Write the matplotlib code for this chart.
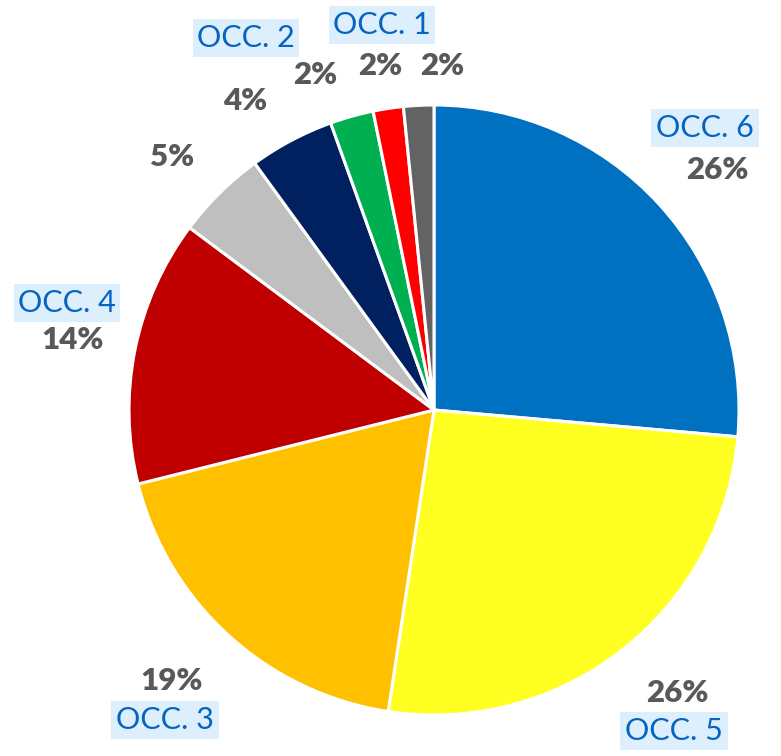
import matplotlib
matplotlib.use("Agg")
import matplotlib.pyplot as plt
import numpy as np

# Data (clockwise from 12 o'clock)
categories = ["OCC. 6", "OCC. 5", "OCC. 3", "OCC. 4", "", "OCC. 2", "", "OCC. 1", ""]
values = [26.4, 26.0, 18.7, 14.1, 4.8, 4.5, 2.3, 1.6, 1.6]
colors = ["#0070C0", "#FFFF21", "#FFC000", "#C00000", "#BFBFBF",
          "#002060", "#00B050", "#FF0000", "#636363"]

# label positions in pixels (x, y) for percentage and category name
pct_pos = [(717, 170), (677, 693), (172, 681), (73, 340), (172, 157),
           (245, 101), (315, 75), (380, 66), (442, 66)]
name_pos = [(705, 128), (674, 731), (165, 720), (67, 303), None,
            (246, 38), None, (382, 25), None]

W, H = 781, 756
CX, CY, R = 434, 410, 305

fig = plt.figure(figsize=(W / 100, H / 100), dpi=100)
ax = fig.add_axes([0, 0, 1, 1])
ax.axis("off")

ax.pie(values, colors=colors, startangle=90, counterclock=False, radius=1.0,
       wedgeprops=dict(edgecolor="white", linewidth=2.2))
ax.set_aspect("auto")
ax.set_xlim(-CX / R, (W - CX) / R)
ax.set_ylim(-(H - CY) / R, CY / R)

def to_data(p):
    return ((p[0] - CX) / R, (CY - p[1]) / R)

font = ["Lato", "DejaVu Sans"]
total = sum(values)
for v, name, pp, npos in zip(values, categories, pct_pos, name_pos):
    x, y = to_data(pp)
    ax.text(x, y, f"{v / total * 100:.0f}%", ha="center", va="center",
            fontsize=22.5, fontweight="heavy", color="#595959", family=font)
    if npos is not None and name:
        x, y = to_data(npos)
        ax.text(x, y, name, ha="center", va="center", fontsize=22,
                color="#0563C1", family=font,
                bbox=dict(boxstyle="square,pad=0.15", facecolor="#DDEEFC",
                          edgecolor="none"))

fig.savefig("out.png", dpi=100)
